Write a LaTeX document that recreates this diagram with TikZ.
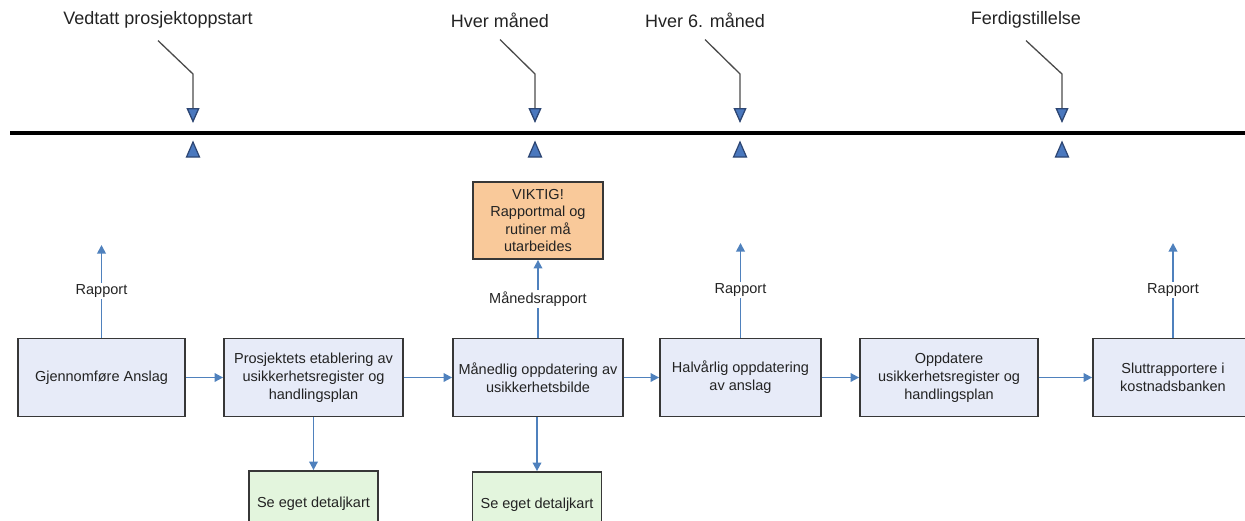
\documentclass[tikz,border=0pt]{standalone}
\usepackage{fontspec}
\setmainfont{Liberation Sans}
\usetikzlibrary{arrows.meta}

\definecolor{boxblue}{RGB}{231,235,248}
\definecolor{boxorange}{RGB}{249,201,154}
\definecolor{boxgreen}{RGB}{227,245,221}
\definecolor{flowblue}{RGB}{79,129,189}
\definecolor{markerblue}{RGB}{74,120,190}
\definecolor{markeredge}{RGB}{45,70,115}
\definecolor{edgegray}{RGB}{55,55,55}
\definecolor{txtgray}{RGB}{35,35,35}
\definecolor{calloutgray}{RGB}{75,75,75}

\begin{document}
\begin{tikzpicture}[x=1pt,y=-1pt,
  stepbox/.style={draw=edgegray, line width=1.8pt, fill=boxblue, minimum height=78pt,
    align=center, text=txtgray, font=\fontsize{14.5}{18}\selectfont, inner sep=3pt},
  notebox/.style={stepbox, fill=boxorange, minimum height=77pt,
    font=\fontsize{14.5}{17.5}\selectfont},
  detailbox/.style={stepbox, fill=boxgreen, minimum height=66pt},
  flow/.style={draw=flowblue, line width=1.8pt, -{Triangle[width=8.5pt,length=8.5pt]}},
  lbl/.style={fill=white, text=txtgray, font=\fontsize{14.5}{18}\selectfont, inner sep=1.5pt},
  toplbl/.style={text=txtgray, font=\fontsize{18}{22}\selectfont, inner sep=0pt},
  callout/.style={draw=calloutgray, line width=1.3pt,
    -{Triangle[width=13pt,length=15pt,fill=markerblue,color=markeredge]}},
  upmarker/.style={fill=markerblue, draw=markeredge, line width=1.2pt, line join=miter},
  timeline/.style={draw=black, line width=3.5pt}
]
\useasboundingbox (0,0) rectangle (1245,520);
\clip (0,0) rectangle (1245,520);

% ---- time axis ----
\coordinate (tlA) at (10,133);
\coordinate (tlB) at (1250,133);
\draw[timeline] (tlA) -- (tlB);

% milestone labels
\node[toplbl] (t1) at (158,20) {Vedtatt prosjektoppstart};
\node[toplbl] (t2) at (500,20) {Hver måned};
\node[toplbl] (t3) at (705,20) {Hver 6. måned};
\node[toplbl] (t4) at (1026,20) {Ferdigstillelse};

% callout bends and marker tips
\coordinate (e1) at (193,74);  \coordinate (m1) at (193,123);
\coordinate (e2) at (535,74);  \coordinate (m2) at (535,123);
\coordinate (e3) at (740,74);  \coordinate (m3) at (740,123);
\coordinate (e4) at (1062,74); \coordinate (m4) at (1062,123);

\draw[callout] ([yshift=-12pt]t1.south) -- (e1) -- (m1);
\draw[callout] ([yshift=-12pt]t2.south) -- (e2) -- (m2);
\draw[callout] ([yshift=-12pt]t3.south) -- (e3) -- (m3);
\draw[callout] ([yshift=-12pt]t4.south) -- (e4) -- (m4);

% upward markers below the axis
\foreach \mx in {193,535,740,1062}
  \filldraw[upmarker] (\mx,142) -- ++(6.5,15) -- ++(-13,0) -- cycle;

% ---- process steps ----
\node[stepbox, minimum width=167pt] (b1) at (101.5,377.5) {Gjennomføre Anslag};
\node[stepbox, minimum width=179pt] (b2) at (313.5,377.5)
  {Prosjektets etablering av\\usikkerhetsregister og\\handlingsplan};
\node[stepbox, minimum width=170pt] (b3) at (538,377.5)
  {Månedlig oppdatering av\\usikkerhetsbilde};
\node[stepbox, minimum width=161pt] (b4) at (740.5,377.5)
  {Halvårlig oppdatering\\av anslag};
\node[stepbox, minimum width=178pt] (b5) at (949,377.5)
  {Oppdatere\\usikkerhetsregister og\\handlingsplan};
\node[stepbox, minimum width=160pt] (b6) at (1173,377.5)
  {Sluttrapportere i\\kostnadsbanken};

\node[notebox, minimum width=130pt] (n1) at (538,220.5)
  {VIKTIG!\\Rapportmal og\\rutiner må\\utarbeides};

\node[detailbox, minimum width=129pt] (g1) at (313.5,504) {Se eget detaljkart};
\node[detailbox, minimum width=129pt] (g2) at (537,505) {Se eget detaljkart};

% ---- flow between steps ----
\draw[flow] (b1) -- (b2);
\draw[flow] (b2) -- (b3);
\draw[flow] (b3) -- (b4);
\draw[flow] (b4) -- (b5);
\draw[flow] (b5) -- (b6);

% reports upwards
\coordinate (r1) at (101.5,245);
\coordinate (r4) at (740.5,243);
\coordinate (r6) at (1173,243);
\draw[flow] (b1.north) -- node[lbl]{Rapport} (r1);
\draw[flow] (b3.north) -- node[lbl]{Månedsrapport} (n1.south);
\draw[flow] (b4.north) -- node[lbl]{Rapport} (r4);
\draw[flow] (b6.north) -- node[lbl]{Rapport} (r6);

% links to detail maps
\draw[flow] (b2.south) -- (g1.north);
\draw[flow] (b3.south -| g2.north) -- (g2.north);
\end{tikzpicture}
\end{document}
